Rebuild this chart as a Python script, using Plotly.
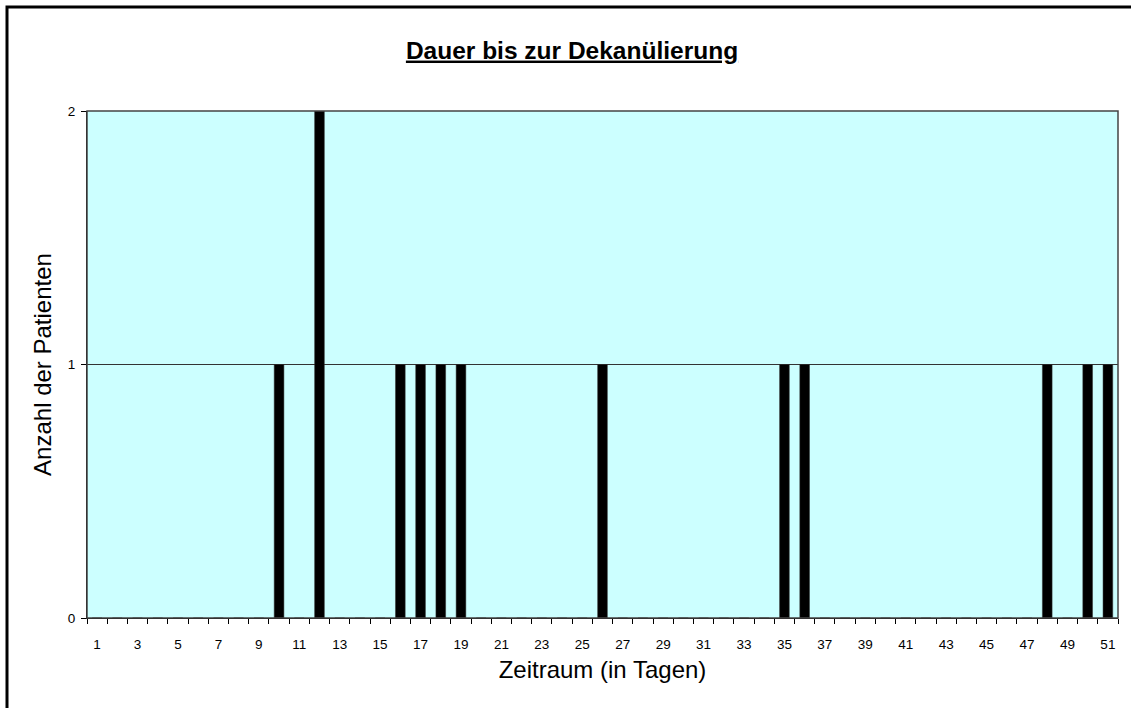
import plotly.graph_objects as go

# Data
days = list(range(1, 52))
patients_by_day = {10: 1, 12: 2, 16: 1, 17: 1, 18: 1, 19: 1, 26: 1, 35: 1, 36: 1, 48: 1, 50: 1, 51: 1}
counts = [patients_by_day.get(d, 0) for d in days]
x_tick_values = list(range(1, 52, 2))
x_tick_labels = [str(v) for v in x_tick_values]
y_tick_values = [0, 1, 2]

title_text = "Dauer bis zur Dekanülierung"
x_title = "Zeitraum (in Tagen)"
y_title = "Anzahl der Patienten"

FONT = "Liberation Sans, Arial, sans-serif"

fig = go.Figure()
fig.add_trace(go.Bar(
    x=days, y=counts,
    marker=dict(color="black", line=dict(color="#333333", width=0.5)),
    width=0.48,
    showlegend=False,
    hoverinfo="x+y",
))

# plot area in pixels: x 87..1118, y 111..618
L, R, T, B = 87, 13, 111, 90
W, H = 1131, 708
pw, ph = W - L - R, H - T - B

def px_x(p):
    return (p - L) / pw

def px_y(p):
    return (H - B - p) / ph

fig.update_layout(
    width=W, height=H,
    margin=dict(l=L, r=R, t=T, b=B, autoexpand=False),
    paper_bgcolor="white",
    plot_bgcolor="#CCFFFF",
    font=dict(family=FONT, color="black", size=13.5),
    bargap=0.5,
    title=dict(
        text="<b><u>" + title_text + "</u></b>",
        x=572 / W, xref="container", xanchor="center",
        y=1 - 50 / H, yref="container", yanchor="middle",
        font=dict(size=24.5, family=FONT, color="black"),
    ),
    xaxis=dict(
        range=[0.5, 51.5],
        tickmode="array", tickvals=x_tick_values, ticktext=x_tick_labels,
        ticks="", ticklabelstandoff=14,
        showline=True, linecolor="black", linewidth=1,
        showgrid=False, zeroline=False,
        tickfont=dict(size=13.5),
        minor=dict(tickmode="linear", tick0=0.5, dtick=1, ticks="outside",
                   ticklen=5, tickcolor="black", tickwidth=1, showgrid=False),
        title=dict(text=x_title, font=dict(size=24), standoff=9),
        fixedrange=True,
    ),
    yaxis=dict(
        range=[0, 2],
        tickmode="array", tickvals=y_tick_values,
        ticks="outside", ticklen=5, tickcolor="black", tickwidth=1,
        ticklabelstandoff=3,
        showline=True, linecolor="black", linewidth=1,
        showgrid=True, gridcolor="#333333", gridwidth=1,
        zeroline=False,
        tickfont=dict(size=13.5),
        title=dict(text=y_title, font=dict(size=24), standoff=9),
        fixedrange=True,
    ),
    shapes=[
        # plot area border (top/right in dark gray)
        dict(type="rect", xref="paper", yref="paper", x0=0, x1=1, y0=0, y1=1,
             line=dict(color="#444444", width=1.5), fillcolor="rgba(0,0,0,0)", layer="above"),
        # outer chart frame (only top/left visible in the picture)
        dict(type="rect", xref="paper", yref="paper",
             x0=px_x(7), x1=px_x(1140), y0=px_y(716), y1=px_y(7),
             line=dict(color="black", width=3), fillcolor="rgba(0,0,0,0)", layer="above"),
    ],
)

fig.write_html(
    "out.html",
    config={"displayModeBar": False},
    post_script="document.body.style.margin='0';document.body.style.overflow='hidden';",
)
